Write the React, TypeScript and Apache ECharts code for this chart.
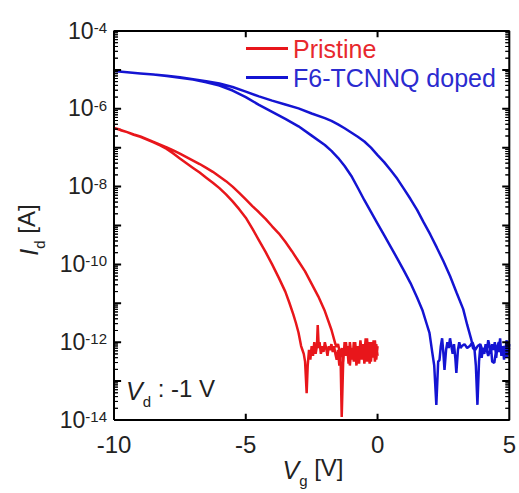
import React, { useEffect, useRef } from "react";
import * as echarts from "echarts";

// Gate voltage (V) and log10 of drain current (A)
const pristineFloorA: [number, number][] = [
  [0, -12.1], [-0.05, -12.45], [-0.1, -11.95], [-0.15, -12.3], [-0.2, -12.05], [-0.25, -12.5],
  [-0.3, -12.0], [-0.35, -12.35], [-0.4, -11.9], [-0.45, -12.2], [-0.5, -12.55], [-0.55, -12.05],
  [-0.6, -12.3], [-0.65, -11.95], [-0.7, -12.4], [-0.75, -12.1], [-0.8, -12.6], [-0.85, -12.15],
  [-0.9, -12.0], [-0.95, -12.45], [-1.0, -12.2], [-1.05, -12.6], [-1.1, -12.1], [-1.15, -12.35],
  [-1.2, -12.0], [-1.25, -12.25], [-1.3, -12.4], [-1.36, -13.92], [-1.4, -12.5], [-1.45, -12.2],
  [-1.5, -12.05], [-1.55, -12.12],
];
const pristineSweepOut: [number, number][] = [
  [-1.6, -12.05], [-1.75, -11.68], [-2.0, -11.2], [-2.25, -10.82], [-2.5, -10.5], [-2.75, -10.18],
  [-3.0, -9.92], [-3.25, -9.66], [-3.5, -9.42], [-3.75, -9.2], [-4.0, -9.02], [-4.25, -8.83],
  [-4.5, -8.66], [-4.75, -8.5], [-5.0, -8.33], [-5.25, -8.16], [-5.5, -8.0], [-5.75, -7.86],
  [-6.0, -7.74], [-6.25, -7.62], [-6.5, -7.52], [-6.75, -7.42], [-7.0, -7.33], [-7.25, -7.24],
  [-7.5, -7.15], [-7.75, -7.07], [-8.0, -6.99], [-8.25, -6.92], [-8.5, -6.85], [-8.75, -6.78],
  [-9.0, -6.71], [-9.25, -6.66], [-9.5, -6.6], [-9.75, -6.54], [-10.0, -6.49],
];
const pristineSweepBack: [number, number][] = [
  [-10.0, -6.49], [-9.75, -6.55], [-9.5, -6.6], [-9.25, -6.67], [-9.0, -6.72], [-8.75, -6.79],
  [-8.5, -6.86], [-8.25, -6.94], [-8.0, -7.03], [-7.75, -7.15], [-7.5, -7.28], [-7.25, -7.4],
  [-7.0, -7.52], [-6.75, -7.64], [-6.5, -7.77], [-6.25, -7.9], [-6.0, -8.04], [-5.75, -8.2],
  [-5.5, -8.38], [-5.25, -8.58], [-5.0, -8.8], [-4.75, -9.08], [-4.5, -9.38], [-4.25, -9.68],
  [-4.0, -10.0], [-3.75, -10.34], [-3.5, -10.7], [-3.35, -10.98], [-3.2, -11.28], [-3.1, -11.5],
  [-3.0, -11.75], [-2.9, -12.1],
];
const pristineFloorB: [number, number][] = [
  [-2.85, -12.2], [-2.8, -12.3], [-2.75, -12.5], [-2.69, -13.31], [-2.65, -12.6], [-2.6, -12.2],
  [-2.55, -12.45], [-2.5, -12.1], [-2.45, -12.35], [-2.4, -12.0], [-2.35, -12.3], [-2.3, -12.1],
  [-2.27, -11.56], [-2.23, -12.15], [-2.2, -12.0], [-2.15, -12.3], [-2.1, -12.1], [-2.05, -12.25],
  [-2.0, -12.0], [-1.95, -12.15], [-1.9, -12.35], [-1.85, -12.1], [-1.8, -12.2], [-1.75, -12.05],
  [-1.7, -12.25], [-1.65, -12.1], [-1.6, -12.3], [-1.55, -12.45], [-1.5, -12.2], [-1.45, -12.6],
  [-1.4, -12.3], [-1.35, -12.15], [-1.3, -12.5], [-1.25, -12.0], [-1.2, -12.35], [-1.15, -12.1],
  [-1.1, -12.55], [-1.05, -12.0], [-1.0, -12.3], [-0.95, -12.15], [-0.9, -12.5], [-0.85, -12.0],
  [-0.8, -12.4], [-0.75, -12.1], [-0.7, -12.55], [-0.65, -11.95], [-0.6, -12.45], [-0.55, -12.05],
  [-0.5, -12.3], [-0.45, -11.9], [-0.4, -12.5], [-0.35, -12.1], [-0.3, -12.55], [-0.25, -12.0],
  [-0.2, -12.4], [-0.15, -11.95], [-0.1, -12.5], [-0.05, -12.05], [0, -12.35],
];

const dopedFloorA: [number, number][] = [
  [5.0, -12.05], [4.95, -12.3], [4.9, -11.95], [4.85, -12.2], [4.8, -12.45], [4.75, -12.1],
  [4.7, -12.35], [4.65, -11.9], [4.6, -12.25], [4.55, -12.1], [4.5, -12.4], [4.45, -12.0],
  [4.4, -12.2], [4.35, -12.05], [4.3, -12.3], [4.25, -12.1], [4.2, -11.95], [4.15, -12.2],
  [4.1, -12.05], [4.05, -12.3], [4.0, -12.15], [3.95, -12.4], [3.9, -12.1], [3.85, -12.5],
  [3.79, -13.61], [3.73, -12.6], [3.68, -12.2], [3.62, -12.15],
];
const dopedSweepOut: [number, number][] = [
  [3.56, -11.94], [3.4, -11.55], [3.25, -11.15], [3.0, -10.73], [2.75, -10.3], [2.5, -9.92],
  [2.25, -9.57], [2.0, -9.23], [1.75, -8.92], [1.5, -8.6], [1.25, -8.32], [1.0, -8.06],
  [0.75, -7.8], [0.5, -7.58], [0.25, -7.37], [0.0, -7.19], [-0.25, -7.0], [-0.5, -6.84],
  [-0.75, -6.72], [-1.0, -6.61], [-1.25, -6.5], [-1.5, -6.4], [-1.75, -6.31], [-2.0, -6.24],
  [-2.5, -6.12], [-3.0, -5.99], [-3.5, -5.89], [-4.0, -5.79], [-4.5, -5.68], [-5.0, -5.56],
  [-5.5, -5.44], [-6.0, -5.35], [-6.5, -5.29], [-7.0, -5.24], [-7.5, -5.19], [-8.0, -5.15],
  [-8.5, -5.12], [-9.0, -5.09], [-9.5, -5.06], [-10.0, -5.03],
];
const dopedSweepBack: [number, number][] = [
  [-10.0, -5.03], [-9.5, -5.06], [-9.0, -5.09], [-8.5, -5.12], [-8.0, -5.16], [-7.5, -5.2],
  [-7.0, -5.25], [-6.5, -5.32], [-6.0, -5.4], [-5.5, -5.53], [-5.0, -5.7], [-4.5, -5.9],
  [-4.0, -6.08], [-3.5, -6.26], [-3.0, -6.45], [-2.5, -6.69], [-2.0, -6.93], [-1.75, -7.08],
  [-1.5, -7.26], [-1.25, -7.47], [-1.0, -7.72], [-0.75, -8.03], [-0.5, -8.35], [-0.25, -8.65],
  [0.0, -8.95], [0.25, -9.25], [0.5, -9.55], [0.75, -9.85], [1.0, -10.16], [1.25, -10.48],
  [1.5, -10.85], [1.7, -11.17], [1.85, -11.5], [1.97, -11.76], [2.08, -12.28],
];
const dopedFloorB: [number, number][] = [
  [2.15, -12.6], [2.23, -13.61], [2.3, -12.5], [2.35, -12.46], [2.4, -12.1], [2.45, -11.9],
  [2.5, -12.3], [2.54, -12.71], [2.6, -12.2], [2.65, -12.0], [2.7, -12.15], [2.75, -11.9],
  [2.8, -12.1], [2.85, -12.3], [2.9, -12.05], [2.95, -12.4], [2.99, -12.79], [3.05, -12.2],
  [3.1, -12.0], [3.15, -12.15], [3.2, -12.1], [3.3, -12.05], [3.4, -12.15], [3.5, -12.1],
  [3.6, -12.0], [3.7, -12.2], [3.8, -12.1], [3.9, -12.05], [4.0, -12.25], [4.1, -12.1],
  [4.2, -12.35], [4.3, -12.1], [4.35, -12.5], [4.43, -12.53], [4.5, -12.2], [4.6, -12.0],
  [4.7, -12.3], [4.8, -12.1], [4.9, -12.4], [5.0, -12.15],
];

const seriesNames = ["Pristine", "F6-TCNNQ doped"];
const X_MIN = -10, X_MAX = 5, X_STEP = 5;
const Y_MIN_EXP = -14, Y_MAX_EXP = -4; // decades shown, labelled every second one
const xInnerTicks = [-5, 0];
const yInnerMajors = [-13, -12, -11, -10, -9, -8, -7, -6, -5];
const yDecades = [-14, -13, -12, -11, -10, -9, -8, -7, -6, -5];

const RED = "#e8161b";
const BLUE = "#1414d2";
const FONT = "'Liberation Sans', Arial, Helvetica, sans-serif";

// the y axis is log10(I): points go through the value scale
const toPoints = (parts: [number, number][][]) => parts.flat().map(([v, e]) => [v, e]);

// log-spaced minor tick positions (2..9 x 10^n) on the log10 axis
const yMinorValues: number[] = [];
yDecades.forEach((e) => {
  for (let k = 2; k <= 9; k++) yMinorValues.push(e + Math.log10(k));
});

// frame with inward ticks, drawn as one continuous polyline in data units
const X_TICK_LEN = 0.16; // decades (~6 px)
const Y_MAJOR_LEN = 0.27; // volts (~7 px)
const Y_MINOR_LEN = 0.15; // volts (~4 px)
const framePath: number[][] = [];
framePath.push([X_MIN, Y_MIN_EXP]);
xInnerTicks.forEach((x) => framePath.push([x, Y_MIN_EXP], [x, Y_MIN_EXP + X_TICK_LEN], [x, Y_MIN_EXP]));
framePath.push([X_MAX, Y_MIN_EXP]);
yInnerMajors.forEach((y) => framePath.push([X_MAX, y], [X_MAX - Y_MAJOR_LEN, y], [X_MAX, y]));
framePath.push([X_MAX, Y_MAX_EXP]);
[...xInnerTicks].reverse().forEach((x) => framePath.push([x, Y_MAX_EXP], [x, Y_MAX_EXP - X_TICK_LEN], [x, Y_MAX_EXP]));
framePath.push([X_MIN, Y_MAX_EXP]);
[...yInnerMajors].reverse().forEach((y) => framePath.push([X_MIN, y], [X_MIN + Y_MAJOR_LEN, y], [X_MIN, y]));
framePath.push([X_MIN, Y_MIN_EXP]);

const minorPath = (edge: number, dir: number) => {
  const p: number[][] = [[edge, Y_MIN_EXP]];
  yMinorValues.forEach((y) => p.push([edge, y], [edge + dir * Y_MINOR_LEN, y], [edge, y]));
  p.push([edge, Y_MAX_EXP]);
  return p;
};

export default function App() {
  const ref = useRef<HTMLDivElement>(null);
  useEffect(() => {
    if (!ref.current) return;
    const chart = echarts.init(ref.current, null, { renderer: "svg" });
    const subRich = {
      i: { fontSize: 25, fontStyle: "italic", fill: "#222", fontFamily: FONT, lineHeight: 30, verticalAlign: "bottom" },
      s: { fontSize: 15, fill: "#222", fontFamily: FONT, lineHeight: 14, verticalAlign: "bottom", padding: [0, 0, -6, 0] },
    };
    const frameSeries = (data: number[][], width: number) => ({
      type: "line",
      data,
      showSymbol: false,
      symbol: "none",
      clip: false,
      silent: true,
      z: 3,
      color: "#000",
      lineStyle: { color: "#000", width },
      emphasis: { disabled: true },
    });
    chart.setOption({
      animation: false,
      grid: { left: 114, right: 9, top: 31, bottom: 73 },
      legend: {
        left: 241,
        top: 31,
        orient: "vertical",
        itemWidth: 42,
        itemHeight: 3,
        itemGap: 4,
        icon: "rect",
        textStyle: { fontSize: 25, fontFamily: FONT },
        data: [
          { name: seriesNames[0], textStyle: { color: "#e8282d" } },
          { name: seriesNames[1], textStyle: { color: "#2b2bcf" } },
        ],
      },
      xAxis: {
        type: "value",
        min: X_MIN,
        max: X_MAX,
        interval: X_STEP,
        position: "bottom",
        axisLine: { show: false, onZero: false },
        axisTick: { show: false },
        axisLabel: { fontSize: 24, color: "#222", margin: 12, fontFamily: FONT },
        splitLine: { show: false },
      },
      yAxis: {
        type: "value",
        min: Y_MIN_EXP,
        max: Y_MAX_EXP,
        interval: 1,
        position: "left",
        axisLine: { show: false, onZero: false },
        axisTick: { show: false },
        splitLine: { show: false },
        axisLabel: {
          margin: 7,
          formatter: (v: number) => (Math.round(v) % 2 === 0 ? `{b|10}{s|${Math.round(v)}}` : ""),
          rich: {
            b: { fontSize: 23, color: "#222", fontFamily: FONT, lineHeight: 22, verticalAlign: "bottom" },
            s: { fontSize: 15, color: "#222", fontFamily: FONT, lineHeight: 14, verticalAlign: "top" },
          },
        },
      },
      series: [
        {
          name: seriesNames[0],
          type: "line",
          showSymbol: false,
          symbol: "none",
          color: RED,
          lineStyle: { color: RED, width: 2.5 },
          data: toPoints([pristineFloorA, pristineSweepOut, pristineSweepBack, pristineFloorB]),
        },
        {
          name: seriesNames[1],
          type: "line",
          showSymbol: false,
          symbol: "none",
          color: BLUE,
          lineStyle: { color: BLUE, width: 2.5 },
          data: toPoints([dopedFloorA, dopedSweepOut, dopedSweepBack, dopedFloorB]),
        },
        frameSeries(framePath, 2),
        frameSeries(minorPath(X_MIN, 1), 1),
        frameSeries(minorPath(X_MAX, -1), 1),
      ],
      graphic: [
        {
          type: "text",
          left: 126,
          top: 376,
          style: { text: "{i|V}{s|d} : -1 V", fontFamily: FONT, fontSize: 24, fill: "#222", rich: subRich },
        },
        {
          type: "text",
          x: 313,
          y: 467,
          style: { text: "{i|V}{s|g} [V]", fontFamily: FONT, fontSize: 24, fill: "#222", rich: subRich, align: "center", verticalAlign: "middle" },
        },
        {
          type: "text",
          x: 26,
          y: 230,
          rotation: Math.PI / 2,
          style: { text: "{i|I}{s|d} [A]", fontFamily: FONT, fontSize: 24, fill: "#222", rich: subRich, align: "center", verticalAlign: "middle" },
        },
      ],
    });
    return () => chart.dispose();
  }, []);
  return <div ref={ref} style={{ width: 519, height: 493, position: "absolute", left: 0, top: 0 }} />;
}
